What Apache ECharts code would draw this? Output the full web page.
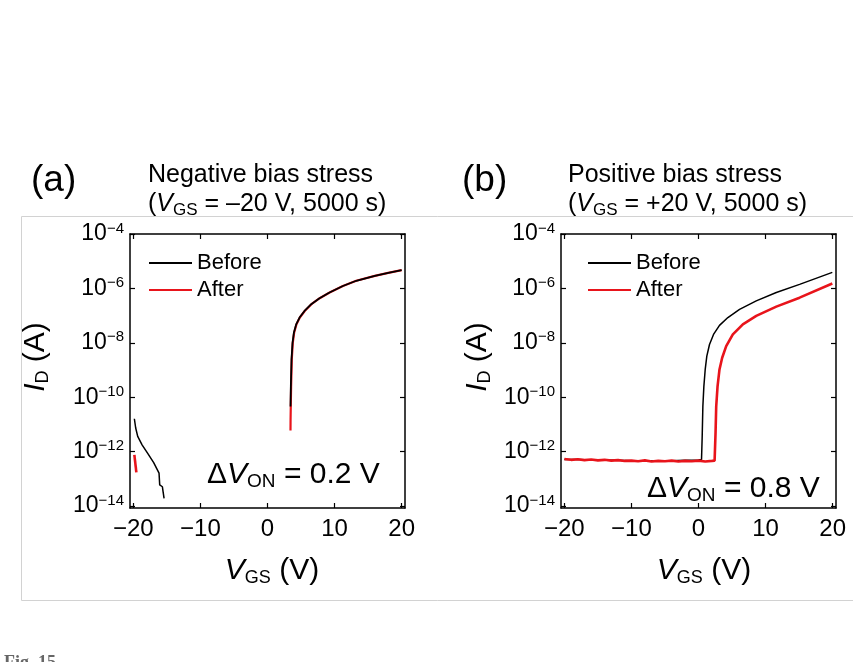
<!DOCTYPE html>
<html><head><meta charset="utf-8">
<script src="https://cdn.jsdelivr.net/npm/echarts@6/dist/echarts.min.js"></script>
<style>html,body{margin:0;padding:0;background:#fff}#c{width:853px;height:662px}</style>
</head><body><div id="c"></div>
<script>
// ---------- data (V_GS in V, I_D in A) ----------
const xTicks = [-20, -10, 0, 10, 20];
const yTicks = [1e-14, 1e-12, 1e-10, 1e-8, 1e-6, 1e-4];

// panel (a) negative bias stress
const aBeforeOffV = [-19.85, -19.65, -19.35, -18.70, -17.86, -16.97, -16.17, -16.07, -15.67, -15.57, -15.42];
const aBeforeOffI = [1.62e-11, 7.41e-12, 3.63e-12, 1.78e-12, 8.71e-13, 3.98e-13, 1.62e-13, 6.03e-14, 5.13e-14, 3.39e-14, 1.91e-14];
const aAfterOffV = [-19.85, -19.55];
const aAfterOffI = [7.59e-13, 1.74e-13];
const aBeforeOnV = [3.43, 3.48, 3.58, 3.73, 3.93, 4.28, 4.78, 5.52, 6.52, 7.76, 9.25, 11.24, 13.23, 16, 18, 20];
const aBeforeOnI = [4.57e-11, 2.51e-10, 2.45e-9, 1.0e-8, 2.34e-8, 4.79e-8, 8.51e-8, 1.48e-7, 2.63e-7, 4.37e-7, 7.08e-7, 1.23e-6, 1.91e-6, 2.88e-6, 3.72e-6, 4.68e-6];
const aAfterOnV = [3.43, 3.44, 3.47, 3.52, 3.62, 3.77, 3.97, 4.32, 4.82, 5.55, 6.55, 7.78, 9.26, 11.24, 13.23, 16, 18, 20];
const aAfterOnI = [6.03e-12, 1.48e-11, 4.57e-11, 2.51e-10, 2.45e-9, 1.0e-8, 2.34e-8, 4.79e-8, 8.51e-8, 1.48e-7, 2.63e-7, 4.37e-7, 7.08e-7, 1.23e-6, 1.91e-6, 2.88e-6, 3.72e-6, 4.68e-6];

// panel (b) positive bias stress
const bBeforeV = [-20, -18, -16, -14, -12, -10, -8, -6, -4, -2, 0, 0.45, 0.55, 0.65, 0.80, 1.00, 1.24, 1.64, 2.24, 3.13, 4.38, 6.12, 8.61, 11.6, 15.07, 19.95];
const bBeforeI = [5.13e-13, 5.13e-13, 4.90e-13, 4.90e-13, 4.79e-13, 4.68e-13, 4.68e-13, 4.57e-13, 4.68e-13, 4.79e-13, 4.90e-13, 5.13e-13, 3.63e-12, 4.57e-11, 2.51e-10, 1.05e-9, 3.24e-9, 8.71e-9, 2.04e-8, 4.37e-8, 8.51e-8, 1.70e-7, 3.47e-7, 7.08e-7, 1.41e-6, 3.89e-6];
const bAfterV = [-20, -19, -18, -17, -16, -15, -14, -13, -12, -11, -10, -9, -8, -7, -6, -5, -4, -3, -2, -1, 0, 1, 2, 2.4, 2.54, 2.64, 2.84, 3.13, 3.53, 4.13, 5.12, 6.61, 8.61, 11.6, 15.07, 19.95];
const bAfterI = [5.37e-13, 5.01e-13, 5.25e-13, 4.90e-13, 5.13e-13, 4.79e-13, 5.01e-13, 4.68e-13, 4.90e-13, 4.57e-13, 4.68e-13, 4.47e-13, 4.79e-13, 4.37e-13, 4.57e-13, 4.47e-13, 4.68e-13, 4.37e-13, 4.57e-13, 4.47e-13, 4.68e-13, 4.37e-13, 4.57e-13, 4.68e-13, 4.79e-12, 4.57e-11, 2.51e-10, 1.05e-9, 2.82e-9, 7.59e-9, 2.04e-8, 4.79e-8, 9.77e-8, 2.14e-7, 4.57e-7, 1.51e-6];

// ---------- chart ----------
const FF = '"Liberation Sans", Arial, sans-serif';
const zip = (v, i) => v.map((x, k) => [x, i[k]]);
const chart = echarts.init(document.getElementById('c'), null, { renderer: 'canvas' });

const grids = [
  { left: 130, top: 234, width: 275, height: 274 },
  { left: 561, top: 234, width: 275, height: 274 }
];
const axLine = { show: true, onZero: false, lineStyle: { color: '#000', width: 1.5 } };
const xFmt = v => (v < 0 ? '\u2212' + (-v) : String(v));
const yFmt = v => '10{s|\u2212' + Math.abs(Math.round(Math.log10(v))) + '}';

function xAx(g, pos) {
  return {
    gridIndex: g, type: 'value', position: pos, min: -20.5, max: 20.5,
    axisLine: axLine,
    axisTick: { show: true, inside: true, length: 5, customValues: xTicks, lineStyle: { color: '#000', width: 1.2 } },
    axisLabel: { show: pos === 'bottom', customValues: xTicks, formatter: xFmt, fontSize: 24, fontFamily: FF, color: '#000', margin: 9 },
    splitLine: { show: false }
  };
}
function yAx(g, pos) {
  return {
    gridIndex: g, type: 'log', logBase: 10, position: pos, min: 8.5e-15, max: 1e-4,
    axisLine: axLine,
    axisTick: { show: true, inside: true, length: 5, customValues: yTicks, lineStyle: { color: '#000', width: 1.2 } },
    axisLabel: { show: pos === 'left', customValues: yTicks, formatter: yFmt, fontSize: 23, fontFamily: FF, color: '#000', margin: 6,
      rich: { s: { fontSize: 15, fontFamily: FF, color: '#000', padding: [0, 0, 11, 0] } } },
    splitLine: { show: false }
  };
}

function ser(name, data, color, width, xi, yi, z) {
  return {
    name, type: 'line', data, xAxisIndex: xi, yAxisIndex: yi, symbol: 'none', showSymbol: false,
    lineStyle: { color, width }, itemStyle: { color }, z, animation: false, silent: true
  };
}

function txt(x, y, text, size, extra) {
  return {
    type: 'text', x, y, silent: true,
    style: Object.assign({ text, fontSize: size, fontFamily: FF, fill: '#000', align: 'left', verticalAlign: 'middle' }, extra || {})
  };
}
const itRich = (big, small) => ({
  i: { fontStyle: 'italic', fontSize: big, fontFamily: FF, fill: '#000' },
  sub: { fontSize: small, fontFamily: FF, fill: '#000', padding: [Math.round(small * 0.75), 0, 0, 0] }
});

function legendAt(left) {
  return {
    left, top: 252, orient: 'vertical', padding: 0, itemWidth: 43, itemHeight: 14, itemGap: 5, itemStyle: { opacity: 0 },
    selectedMode: false, data: ['Before', 'After'], textStyle: { fontSize: 22, fontFamily: FF, color: '#000' }
  };
}

const option = {
  backgroundColor: '#fff',
  animation: false,
  grid: grids,
  xAxis: [xAx(0, 'bottom'), xAx(0, 'top'), xAx(1, 'bottom'), xAx(1, 'top')],
  yAxis: [yAx(0, 'left'), yAx(0, 'right'), yAx(1, 'left'), yAx(1, 'right')],
  legend: [legendAt(148), legendAt(587)],
  series: [
    ser('Before', zip(aBeforeOffV, aBeforeOffI), '#000', 1.5, 0, 0, 3),
    ser('Before', zip(aBeforeOnV, aBeforeOnI), '#000', 1.8, 0, 0, 3),
    ser('After', zip(aAfterOffV, aAfterOffI), '#e8141b', 2.6, 0, 0, 4),
    ser('After', zip(aAfterOnV, aAfterOnI), '#e8141b', 2.2, 0, 0, 2),
    ser('Before', zip(bBeforeV, bBeforeI), '#000', 1.5, 2, 2, 3),
    ser('After', zip(bAfterV, bAfterI), '#e8141b', 2.6, 2, 2, 4)
  ],
  graphic: [
    { type: 'rect', silent: true, z: -10, shape: { x: 21.5, y: 216.5, width: 860, height: 384 },
      style: { fill: 'none', stroke: '#d2d2d2', lineWidth: 1 } },
    txt(31, 181, '(a)', 37),
    txt(462, 181, '(b)', 37),
    txt(148, 175, 'Negative bias stress', 25),
    txt(148, 204, '({i|V}{sub|GS} = \u201320 V, 5000 s)', 25, { rich: itRich(25, 17) }),
    txt(568, 175, 'Positive bias stress', 25),
    txt(568, 204, '({i|V}{sub|GS} = +20 V, 5000 s)', 25, { rich: itRich(25, 17) }),
    txt(207, 475, '\u0394{i|V}{sub|ON} = 0.2 V', 30, { rich: itRich(30, 19) }),
    txt(647, 489, '\u0394{i|V}{sub|ON} = 0.8 V', 30, { rich: itRich(30, 19) }),
    txt(272, 571, '{i|V}{sub|GS} (V)', 30, { rich: itRich(30, 18), align: 'center' }),
    txt(704, 571, '{i|V}{sub|GS} (V)', 30, { rich: itRich(30, 18), align: 'center' }),
    Object.assign(txt(36, 357, '{i|I}{sub|D} (A)', 30, { rich: itRich(30, 18), align: 'center' }), { rotation: Math.PI / 2 }),
    Object.assign(txt(478, 357, '{i|I}{sub|D} (A)', 30, { rich: itRich(30, 18), align: 'center' }), { rotation: Math.PI / 2 }),
    { type: 'text', x: 4, y: 654, silent: true,
      style: { text: 'Fig. 15', fontSize: 18, fontWeight: 'bold', fontFamily: '"Liberation Serif", serif', fill: '#666', align: 'left', verticalAlign: 'top' } }
  ]
};
chart.setOption(option);
</script>
</body></html>
